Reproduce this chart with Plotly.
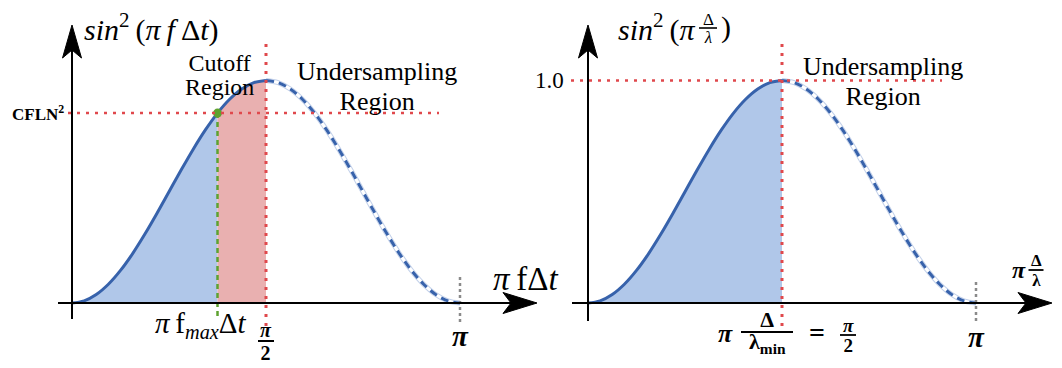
import plotly.graph_objects as go

# One period of sin^2, sampled every pi/32 (x in units of pi)
phase = [k / 32 for k in range(33)]
sin2 = [0.0, 0.0096, 0.0381, 0.0843, 0.1464, 0.2222, 0.3087, 0.4025, 0.5,
        0.5975, 0.6913, 0.7778, 0.8536, 0.9157, 0.9619, 0.9904, 1.0,
        0.9904, 0.9619, 0.9157, 0.8536, 0.7778, 0.6913, 0.5975, 0.5,
        0.4025, 0.3087, 0.2222, 0.1464, 0.0843, 0.0381, 0.0096, 0.0]

CUT = 12        # index of the cutoff (pi f_max dt)
NYQ = 16        # index of pi/2
cutoff_x = phase[CUT]
cfln2 = sin2[CUT]
peak = 1.0

W, H = 1062, 368
X0_L, X0_R, SX = 72, 588, 388      # pixel position of x=0 and px per unit
Y0, SY = 303, 222.5                 # pixel row of y=0 and px per unit


def lx(px):
    return (px - X0_L) / SX


def rx(px):
    return (px - X0_R) / SX


def yy(py):
    return (Y0 - py) / SY


BLUE = "#3762ab"
BLUE_FILL = "#b0c7e9"
RED_FILL = "#e9b0b0"
RED = "#e0484c"
GREEN = "#5ea22f"
GRAY = "#8a8a8a"
SERIF = "Liberation Serif"
TS = "\u2009"   # thin space used to open up the math labels

fig = go.Figure()


def add_curve(xa):
    """Solid rising half and dashed falling half of the curve."""
    fig.add_trace(go.Scatter(x=phase[NYQ:], y=sin2[NYQ:], xaxis=xa, mode="lines",
                             line=dict(color="#c3d1ea", width=5, shape="spline"),
                             hoverinfo="skip"))
    fig.add_trace(go.Scatter(x=phase[NYQ:], y=sin2[NYQ:], xaxis=xa, mode="lines",
                             line=dict(color="white", width=3, shape="spline"),
                             hoverinfo="skip"))
    fig.add_trace(go.Scatter(x=phase[NYQ:], y=sin2[NYQ:], xaxis=xa, mode="lines",
                             line=dict(color=BLUE, width=3, shape="spline", dash="8px,5px"),
                             hoverinfo="skip"))
    fig.add_trace(go.Scatter(x=phase[:NYQ + 1], y=sin2[:NYQ + 1], xaxis=xa, mode="lines",
                             line=dict(color=BLUE, width=3, shape="spline"),
                             hoverinfo="skip"))


# left panel: stable part and cutoff region
fig.add_trace(go.Scatter(x=phase[:CUT + 1], y=sin2[:CUT + 1], xaxis="x", mode="lines",
                         fill="tozeroy", fillcolor=BLUE_FILL,
                         line=dict(width=0, shape="spline"), hoverinfo="skip"))
fig.add_trace(go.Scatter(x=phase[CUT:NYQ + 1], y=sin2[CUT:NYQ + 1], xaxis="x", mode="lines",
                         fill="tozeroy", fillcolor=RED_FILL,
                         line=dict(width=0, shape="spline"), hoverinfo="skip"))
add_curve("x")

# right panel: resolved wavelengths
fig.add_trace(go.Scatter(x=phase[:NYQ + 1], y=sin2[:NYQ + 1], xaxis="x2", mode="lines",
                         fill="tozeroy", fillcolor=BLUE_FILL,
                         line=dict(width=0, shape="spline"), hoverinfo="skip"))
add_curve("x2")

fig.add_trace(go.Scatter(x=[cutoff_x], y=[cfln2], xaxis="x", mode="markers",
                         marker=dict(color=GREEN, size=9), hoverinfo="skip"))

shapes = []


def seg(xref, x0, y0, x1, y1, color, width, dash="solid"):
    shapes.append(dict(type="line", xref=xref, yref="y", x0=x0, y0=y0, x1=x1, y1=y1,
                       line=dict(color=color, width=width, dash=dash), layer="above"))


def arrow_up(xref, x, ytip):
    hw, ln, nt = 9.5 / SX, 33 / SY, 25 / SY
    path = (f"M {x},{ytip} L {x - hw},{ytip - ln} L {x},{ytip - nt} "
            f"L {x + hw},{ytip - ln} Z")
    shapes.append(dict(type="path", xref=xref, yref="y", path=path,
                       fillcolor="black", line=dict(color="black", width=1), layer="above"))


def arrow_right(xref, xtip, y):
    hw, ln, nt = 10.5 / SY, 34 / SX, 26 / SX
    path = (f"M {xtip},{y} L {xtip - ln},{y + hw} L {xtip - nt},{y} "
            f"L {xtip - ln},{y - hw} Z")
    shapes.append(dict(type="path", xref=xref, yref="y", path=path,
                       fillcolor="black", line=dict(color="black", width=1), layer="above"))


DOT = "3px,6px"

# left panel guides and axes
seg("x", 0.5, yy(326), 0.5, yy(42), RED, 3, DOT)
seg("x", lx(68), cfln2, lx(439), cfln2, RED, 2.5, DOT)
seg("x", cutoff_x, cfln2, cutoff_x, yy(318), GREEN, 2.5, "5px,4px")
seg("x", 1.0, yy(322), 1.0, yy(276), GRAY, 2.5, "3px,3px")
seg("x", 0, yy(319), 0, yy(45), "black", 2)
seg("x", lx(58), 0, lx(515), 0, "black", 2)
arrow_up("x", 0, yy(25))
arrow_right("x", lx(537), 0)

# right panel guides and axes
seg("x2", 0.5, yy(326), 0.5, yy(41), RED, 3, DOT)
seg("x2", rx(571), peak, rx(942), peak, RED, 2.5, DOT)
seg("x2", 1.0, yy(321), 1.0, yy(281), GRAY, 2.5, "3px,3px")
seg("x2", 0, yy(321), 0, yy(45), "black", 2)
seg("x2", rx(572), 0, rx(1030), 0, "black", 2)
arrow_up("x2", 0, yy(25))
arrow_right("x2", rx(1052), 0)

ann = []


def text(xref, x, y, s, size, xanchor="center", bold=False, italic=False):
    ann.append(dict(xref=xref, yref="y", x=x, y=y, text=s, showarrow=False,
                    xanchor=xanchor, yanchor="middle",
                    font=dict(family=SERIF, size=size, color="black",
                              weight="bold" if bold else "normal",
                              style="italic" if italic else "normal")))


def stacked(xref, x, y, top, bottom, size, gap, bold=False):
    """Two lines set at `size` px whose baselines sit `gap` px apart."""
    span = f'<span style="font-size:{size}px">'
    text(xref, x, y, f"{span}{top}</span><br>{span}{bottom}</span>",
         gap / 1.3, bold=bold)


def fraction(xref, x, ymid, top, bottom, size, gap, half_width, bold=False, lw=1.8):
    """Numerator over denominator with a rule between them."""
    stacked(xref, x, ymid, top, bottom, size, gap, bold=bold)
    seg(xref, x - half_width, ymid, x + half_width, ymid, "black", lw)


# left panel labels
text("x", lx(82), yy(27),
     TS.join(["<i>sin</i><sup>2</sup>", "(<i>π</i>", "<i>f</i>", "Δ<i>t</i>)"]), 30, "left")
stacked("x", lx(219), yy(75), "Cutoff", "Region", 24, 24)
stacked("x", lx(377), yy(86), "Undersampling", "Region", 26, 30)
text("x", lx(66), cfln2, "CFLN<sup>2</sup>", 17, "right", bold=True)
text("x", cutoff_x - 0.045, yy(325),
     f"<i>π</i>{TS}f<sub><i>max</i></sub>Δ<i>t</i>", 29)
fraction("x", 0.5, yy(341), "<i>π</i>", "2", 20, 23, 8 / SX, bold=True, lw=2)
text("x", 1.0, yy(336), "π", 29, bold=True, italic=True)
text("x", lx(491), yy(279), f"<i>π</i>{TS}fΔ<i>t</i>", 33, "left")

# right panel labels
text("x2", rx(698), yy(27),
     TS.join(["<i>sin</i><sup>2</sup>", "(<i>π</i>"]), 30, "right")
fraction("x2", rx(708), yy(28), "Δ", "<i>λ</i>", 17, 18, 9 / SX, lw=1.6)
text("x2", rx(726), yy(27), ")", 30)
text("x2", rx(566), peak, "1.0", 23, "right")
stacked("x2", rx(883), yy(81), "Undersampling", "Region", 26, 30)
text("x2", rx(725), yy(333), "π", 26, bold=True, italic=True)
fraction("x2", rx(767), yy(332), "Δ", "λ<sub>min</sub>", 22, 22, 26 / SX, bold=True)
text("x2", rx(817), yy(332), "=", 28, bold=True)
fraction("x2", rx(848), yy(335), "<i>π</i>", "2", 19, 20, 8 / SX, bold=True)
text("x2", 1.0, yy(337), "π", 29, bold=True, italic=True)
text("x2", rx(1019), yy(270), "π", 24, bold=True, italic=True)
fraction("x2", rx(1036), yy(270), "Δ", "λ", 17, 20, 7.5 / SX, bold=True)

hidden = dict(visible=False, showgrid=False, zeroline=False, fixedrange=True)
fig.update_layout(
    width=W, height=H, margin=dict(l=0, r=0, t=0, b=0),
    paper_bgcolor="white", plot_bgcolor="white", showlegend=False,
    xaxis=dict(range=[-X0_L / SX, (W - X0_L) / SX], domain=[0, 1], **hidden),
    xaxis2=dict(range=[-X0_R / SX, (W - X0_R) / SX], domain=[0, 1],
                overlaying="x", **hidden),
    yaxis=dict(range=[(Y0 - H) / SY, Y0 / SY], domain=[0, 1], **hidden),
    shapes=shapes, annotations=ann,
)

fig.write_html("out.html")
